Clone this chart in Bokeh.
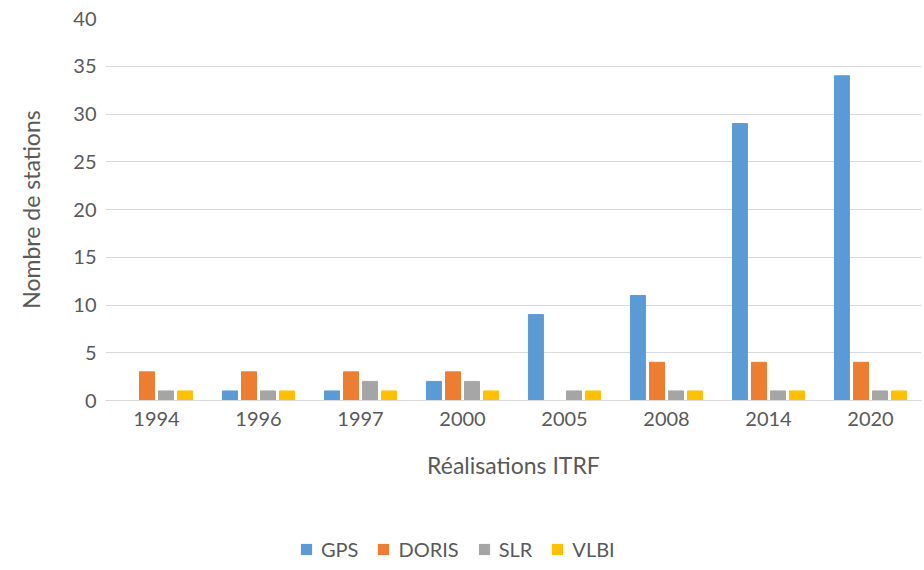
from bokeh.plotting import figure
from bokeh.models import ColumnDataSource, FactorRange, Range1d, Legend, LegendItem, SingleIntervalTicker
from bokeh.transform import dodge
from bokeh.layouts import column
from bokeh.embed import file_html
from bokeh.resources import INLINE

years = ["1994", "1996", "1997", "2000", "2005", "2008", "2014", "2020"]
gps = [0, 1, 1, 2, 9, 11, 29, 34]
doris = [3, 3, 3, 3, 0, 4, 4, 4]
slr = [1, 1, 2, 2, 1, 1, 1, 1]
vlbi = [1, 1, 1, 1, 1, 1, 1, 1]
series_names = ["GPS", "DORIS", "SLR", "VLBI"]
colors = ["#5B9BD5", "#ED7D31", "#A5A5A5", "#FFC000"]

src = ColumnDataSource(dict(years=years, GPS=gps, DORIS=doris, SLR=slr, VLBI=vlbi))

FONT = "Lato"
TXT = "#595959"

p = figure(x_range=FactorRange(*years), y_range=Range1d(0, 40),
           width=922, height=482, output_backend="svg", toolbar_location=None,
           min_border_left=105, min_border_right=1, min_border_top=18, min_border_bottom=82)
p.outline_line_color = None
p.background_fill_color = "white"

offsets = [-0.28, -0.093, 0.093, 0.28]
for name, off, col in zip(series_names, offsets, colors):
    p.vbar(x=dodge("years", off, range=p.x_range), top=name, width=0.147, source=src,
           fill_color=col, line_color=col, line_width=1)

p.yaxis.ticker = SingleIntervalTicker(interval=5)
p.ygrid.grid_line_color = "#D9D9D9"
p.ygrid.grid_line_width = 1
p.xgrid.grid_line_color = None

p.yaxis.axis_line_color = None
p.yaxis.major_tick_line_color = None
p.yaxis.minor_tick_line_color = None
p.yaxis.major_label_standoff = 3
p.yaxis.major_label_text_font = FONT
p.yaxis.major_label_text_font_size = "20px"
p.yaxis.major_label_text_color = TXT
p.yaxis.axis_label = "Nombre de stations"
p.yaxis.axis_label_text_font = FONT
p.yaxis.axis_label_text_font_size = "23px"
p.yaxis.axis_label_text_font_style = "normal"
p.yaxis.axis_label_text_color = TXT
p.yaxis.axis_label_standoff = 25

p.xaxis.axis_line_color = "#D9D9D9"
p.xaxis.axis_line_width = 1
p.xaxis.major_tick_line_color = None
p.xaxis.minor_tick_line_color = None
p.xaxis.major_label_standoff = 5
p.xaxis.major_label_text_font = FONT
p.xaxis.major_label_text_font_size = "20px"
p.xaxis.major_label_text_color = TXT
p.xaxis.axis_label = "Réalisations ITRF"
p.xaxis.axis_label_text_font = FONT
p.xaxis.axis_label_text_font_size = "23px"
p.xaxis.axis_label_text_font_style = "normal"
p.xaxis.axis_label_text_color = TXT
p.xaxis.axis_label_standoff = 22

# legend strip: same data, drawn outside its visible range so only the legend shows
q = figure(width=922, height=80, x_range=p.x_range, y_range=Range1d(-10, -9),
           output_backend="svg", toolbar_location=None, min_border=0)
q.axis.visible = False
q.grid.grid_line_color = None
q.outline_line_color = None
items = []
for name, col in zip(series_names, colors):
    r = q.vbar(x="years", top=name, width=0, source=src, fill_color=col, line_color=None)
    items.append(LegendItem(label=name, renderers=[r]))
legend = Legend(items=items, orientation="horizontal", location=(194, 1),
                border_line_color=None, background_fill_alpha=0,
                padding=0, margin=0, spacing=18, label_standoff=8,
                glyph_width=14, glyph_height=14,
                label_text_font=FONT, label_text_font_size="20px", label_text_color=TXT)
q.add_layout(legend, "center")

layout = column(p, q, spacing=0)
open("out.html", "w").write(file_html(layout, INLINE))
